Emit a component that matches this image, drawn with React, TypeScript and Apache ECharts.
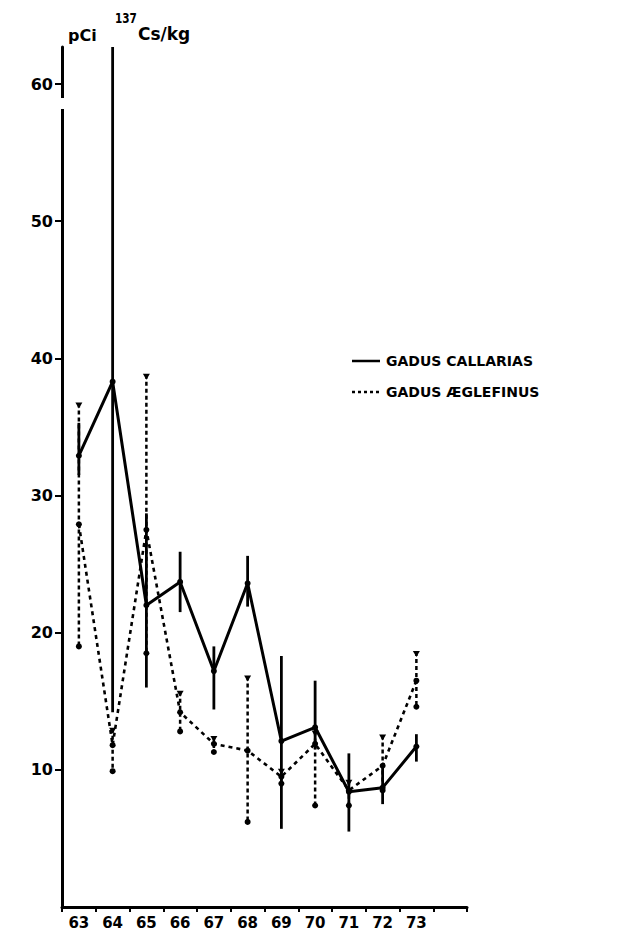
import React, { useEffect, useRef } from "react";
import * as echarts from "echarts";

// Years (x categories); the last empty category extends the axis like the original
const categories = ["63", "64", "65", "66", "67", "68", "69", "70", "71", "72", "73", ""];
const yTicks = [10, 20, 30, 40, 50, 60];

// Gadus callarias (solid)
const callariasMean = [32.9, 38.3, 22.0, 23.7, 17.2, 23.6, 12.1, 13.1, 8.4, 8.7, 11.7];
const callariasLow = [31.5, 14.2, 16.0, 21.5, 14.4, 21.9, 5.7, 11.5, 5.5, 7.5, 10.6];
const callariasHigh = [35.3, 62.7, 28.7, 25.9, 19.0, 25.6, 18.3, 16.5, 11.2, 10.3, 12.6];

// Gadus aeglefinus (dashed)
const aeglefinusMean = [27.9, 11.8, 27.5, 14.2, 11.9, 11.4, 9.5, 11.9, 8.5, 10.3, 16.5];
const aeglefinusLow = [19.0, 9.9, 18.5, 12.8, 11.3, 6.2, 9.0, 7.4, 7.4, 8.5, 14.6];
const aeglefinusHigh = [36.7, 13.0, 38.8, 15.7, 12.4, 16.8, 10.0, 12.8, 9.2, 12.5, 18.6];

const FONT = "DejaVu Sans";

export default function App() {
  const ref = useRef<HTMLDivElement>(null);

  useEffect(() => {
    if (!ref.current) return;
    const chart = echarts.init(ref.current, undefined, { renderer: "svg" });

    const errData = (lo: number[], hi: number[]) => lo.map((l, i) => [i, l, hi[i]]);

    const makeErr = (dashed: boolean) => (params: any, api: any) => {
      const top = api.coord([api.value(0), api.value(2)]);
      const bot = api.coord([api.value(0), api.value(1)]);
      const children: any[] = [
        {
          type: "line",
          shape: { x1: top[0], y1: top[1], x2: bot[0], y2: bot[1] },
          style: {
            stroke: "#000",
            lineWidth: dashed ? 2.5 : 2.8,
            lineDash: dashed ? [4, 3] : null,
          },
        },
      ];
      if (dashed) {
        children.push({
          type: "polygon",
          shape: {
            points: [
              [top[0] - 3.5, top[1] - 1],
              [top[0] + 3.5, top[1] - 1],
              [top[0], top[1] + 5],
            ],
          },
          style: { fill: "#000" },
        });
        children.push({
          type: "circle",
          shape: { cx: bot[0], cy: bot[1], r: 3 },
          style: { fill: "#000" },
        });
      }
      return { type: "group", children };
    };

    chart.setOption({
      animation: false,
      backgroundColor: "#fff",
      grid: { left: 62, right: 163, top: 47, bottom: 26, containLabel: false },
      xAxis: {
        type: "category",
        data: categories,
        boundaryGap: true,
        axisLine: { lineStyle: { color: "#000", width: 3 } },
        axisTick: { show: true, length: 5, lineStyle: { color: "#000", width: 2 } },
        axisLabel: {
          color: "#000",
          fontFamily: FONT,
          fontWeight: "bold",
          fontSize: 15,
          margin: 8,
        },
        splitLine: { show: false },
      },
      yAxis: {
        type: "value",
        min: 0,
        max: 62.7,
        interval: 10,
        axisLine: { show: true, lineStyle: { color: "#000", width: 3 } },
        axisTick: {
          show: true,
          length: 7,
          customValues: yTicks,
          lineStyle: { color: "#000", width: 2 },
        },
        axisLabel: {
          color: "#000",
          fontFamily: FONT,
          fontWeight: "bold",
          fontSize: 16,
          margin: 9,
          customValues: yTicks,
        },
        splitLine: { show: false },
      },
      series: [
        {
          name: "GADUS CALLARIAS err",
          type: "custom",
          renderItem: makeErr(false),
          data: errData(callariasLow, callariasHigh),
          encode: { x: 0, y: [1, 2] },
          z: 3,
        },
        {
          name: "GADUS ÆGLEFINUS err",
          type: "custom",
          renderItem: makeErr(true),
          data: errData(aeglefinusLow, aeglefinusHigh),
          encode: { x: 0, y: [1, 2] },
          z: 3,
        },
        {
          name: "GADUS CALLARIAS",
          type: "line",
          data: callariasMean,
          symbol: "circle",
          symbolSize: 6,
          itemStyle: { color: "#000" },
          lineStyle: { color: "#000", width: 3 },
          z: 4,
        },
        {
          name: "GADUS ÆGLEFINUS",
          type: "line",
          data: aeglefinusMean,
          symbol: "circle",
          symbolSize: 6,
          itemStyle: { color: "#000" },
          lineStyle: { color: "#000", width: 2.6, type: [4, 4] },
          z: 4,
        },
      ],
      graphic: [
        // axis break below 60
        { type: "rect", shape: { x: 58, y: 98, width: 9, height: 11 }, style: { fill: "#fff" }, z: 100 },
        // axis title
        { type: "text", x: 68, y: 27, style: { text: "pCi", fill: "#000", font: `bold 16px "${FONT}"` }, z: 100 },
        {
          type: "text",
          x: 115,
          y: 11,
          scaleX: 0.75,
          style: { text: "137", fill: "#000", font: `bold 14px "${FONT}"` },
          z: 100,
        },
        { type: "text", x: 138, y: 25, style: { text: "Cs/kg", fill: "#000", font: `bold 17px "${FONT}"` }, z: 100 },
        // legend
        { type: "line", shape: { x1: 352, y1: 361, x2: 380, y2: 361 }, style: { stroke: "#000", lineWidth: 2.5 }, z: 100 },
        {
          type: "text",
          x: 386,
          y: 361,
          style: { text: "GADUS CALLARIAS", fill: "#000", font: `bold 14px "${FONT}"`, verticalAlign: "middle" },
          z: 100,
        },
        {
          type: "line",
          shape: { x1: 352, y1: 392, x2: 381, y2: 392 },
          style: { stroke: "#000", lineWidth: 2.5, lineDash: [3, 3] },
          z: 100,
        },
        {
          type: "text",
          x: 386,
          y: 392,
          style: { text: "GADUS ÆGLEFINUS", fill: "#000", font: `bold 14px "${FONT}"`, verticalAlign: "middle" },
          z: 100,
        },
      ],
    });

    return () => chart.dispose();
  }, []);

  return (
    <div
      ref={ref}
      style={{ position: "fixed", left: 0, top: 0, width: 630, height: 933, background: "#fff" }}
    />
  );
}
